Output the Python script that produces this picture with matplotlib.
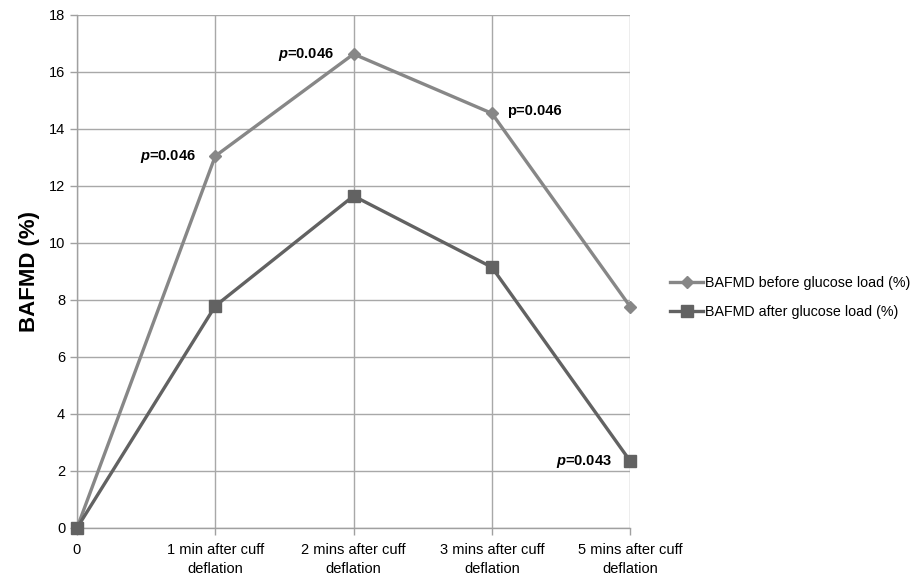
import matplotlib
matplotlib.use('Agg')
import matplotlib.pyplot as plt
import numpy as np

plt.rcParams.update({
    'font.family': ['Liberation Sans', 'DejaVu Sans'],
    'mathtext.fontset': 'custom',
    'mathtext.bfit': 'Liberation Sans:italic:bold',
    'mathtext.it': 'Liberation Sans:italic',
})

# data
categories = ['0', '1 min after cuff\ndeflation', '2 mins after cuff\ndeflation',
              '3 mins after cuff\ndeflation', '5 mins after cuff\ndeflation']
before = [0, 13.05, 16.63, 14.55, 7.77]
after = [0, 7.79, 11.65, 9.15, 2.35]
labels = ['BAFMD before glucose load (%)', 'BAFMD after glucose load (%)']
pvals = [(1, r'$\mathbfit{p}$=0.046'), (2, r'$\mathbfit{p}$=0.046'),
         (3, 'p=0.046')]
p_after = (4, r'$\mathbfit{p}$=0.043')

fig = plt.figure(figsize=(9.21, 5.79), dpi=100)
ax = fig.add_axes([0.0836, 0.0881, 0.6006, 0.8860])

x = np.arange(len(categories))
c_before = '#878787'
c_after = '#626262'
ax.plot(x, before, '-', marker='D', color=c_before, lw=2.4, ms=6.5,
        label=labels[0], zorder=3, clip_on=False)
ax.plot(x, after, '-', marker='s', color=c_after, lw=2.4, ms=9,
        label=labels[1], zorder=3, clip_on=False)

ax.set_xlim(0, 4)
ax.set_ylim(0, 18)
ax.set_yticks(range(0, 19, 2))
ax.set_xticks(x)
ax.set_xticklabels(categories, fontsize=10.5, linespacing=1.45)
ax.tick_params(axis='y', labelsize=10.5, length=5, color='#a0a0a0', width=1)
ax.tick_params(axis='x', length=5, color='#a0a0a0', width=1, pad=6)
ax.grid(True, color='#a8a8a8', lw=1)
ax.set_axisbelow(True)
for s in ['top', 'right']:
    ax.spines[s].set_visible(False)
for s in ['left', 'bottom']:
    ax.spines[s].set_color('#a0a0a0')
    ax.spines[s].set_linewidth(1)

ax.set_ylabel('BAFMD (%)', fontsize=16, fontweight='bold', labelpad=6)

# p-value annotations
for i, t in pvals:
    if i == 3:
        ax.annotate(t, (x[i], before[i]), xytext=(11, 2), textcoords='offset points',
                    ha='left', va='center', fontsize=10.5, fontweight='bold')
    else:
        ax.annotate(t, (x[i], before[i]), xytext=(-14, 0), textcoords='offset points',
                    ha='right', va='center', fontsize=10.5, fontweight='bold')
ax.annotate(p_after[1], (x[p_after[0]], after[p_after[0]]), xytext=(-13, 0),
            textcoords='offset points', ha='right', va='center',
            fontsize=10.5, fontweight='bold')

leg = fig.legend(loc='center left', bbox_to_anchor=(0.728, 0.486), frameon=False,
                 fontsize=10.3, handlelength=2.3, handletextpad=0.1,
                 labelspacing=1.05, borderpad=0, borderaxespad=0)

fig.savefig('out.png', dpi=100)
